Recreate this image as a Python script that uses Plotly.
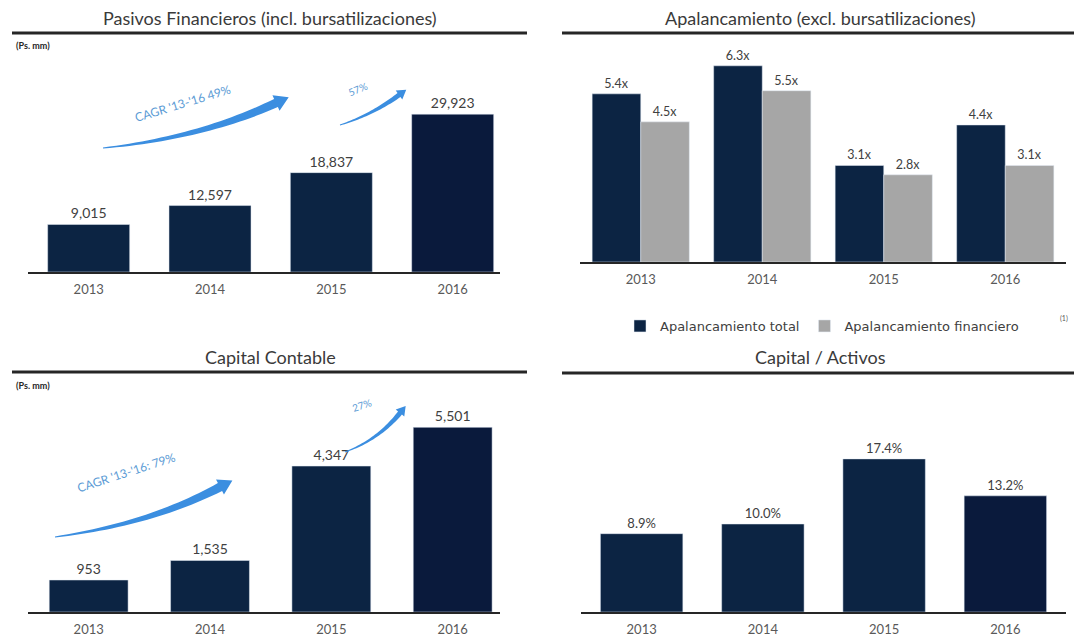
import numpy as np
import plotly.graph_objects as go

W, H = 1074, 639

# ---------------- data ----------------
years = ["2013", "2014", "2015", "2016"]
pasivos = [9015, 12597, 18837, 29923]
apal_total = [5.4, 6.3, 3.1, 4.4]
apal_financiero = [4.5, 5.5, 2.8, 3.1]
capital = [953, 1535, 4347, 5501]
cap_activos = [8.9, 10.0, 17.4, 13.2]

titles = ["Pasivos Financieros (incl. bursatilizaciones)",
          "Apalancamiento (excl. bursatilizaciones)",
          "Capital Contable",
          "Capital / Activos"]
cagr_labels = ["CAGR '13-'16 49%", "57%", "CAGR '13-'16: 79%", "27%"]

NAVY = "#0c2443"
NAVY2 = "#0a1a3c"
GRAY = "#a6a6a6"
TXT = "#404040"
FONT = "Lato"


def px(x):
    return x / W


def py(y):
    return 1 - y / H


fig = go.Figure()

# Top-left
fig.add_trace(go.Bar(x=years, y=pasivos, text=[f"{v:,}" for v in pasivos],
                     marker=dict(color=[NAVY, NAVY, NAVY, NAVY2]), width=0.676,
                     textposition="outside", cliponaxis=False,
                     textfont=dict(size=14, color=TXT, family=FONT),
                     showlegend=False, xaxis="x", yaxis="y"))
# Top-right
fig.add_trace(go.Bar(x=years, y=apal_total, text=[f"{v:.1f}x" for v in apal_total],
                     name="Apalancamiento total", marker_color=NAVY, width=0.4, offset=-0.4,
                     textposition="outside", cliponaxis=False,
                     textfont=dict(size=12.5, color=TXT, family=FONT),
                     xaxis="x2", yaxis="y2"))
fig.add_trace(go.Bar(x=years, y=apal_financiero, text=[f"{v:.1f}x" for v in apal_financiero],
                     name="Apalancamiento financiero", marker_color=GRAY, width=0.4, offset=0,
                     textposition="outside", cliponaxis=False,
                     textfont=dict(size=12.5, color=TXT, family=FONT),
                     xaxis="x2", yaxis="y2"))
# Bottom-left
fig.add_trace(go.Bar(x=years, y=capital, text=[f"{v:,}" for v in capital],
                     marker=dict(color=[NAVY, NAVY, NAVY, NAVY2]), width=0.65,
                     textposition="outside", cliponaxis=False,
                     textfont=dict(size=14, color=TXT, family=FONT),
                     showlegend=False, xaxis="x3", yaxis="y3"))
# Bottom-right
fig.add_trace(go.Bar(x=years, y=cap_activos, text=[f"{v:.1f}%" for v in cap_activos],
                     marker=dict(color=[NAVY, NAVY, NAVY, NAVY2]), width=0.68,
                     textposition="outside", cliponaxis=False,
                     textfont=dict(size=13, color=TXT, family=FONT),
                     showlegend=False, xaxis="x4", yaxis="y4"))

xcommon = dict(type="category", categoryorder="array", categoryarray=years,
               showline=True, linecolor="#262626", linewidth=1.5, showgrid=False,
               zeroline=False, ticks="", ticklabelstandoff=5,
               tickfont=dict(size=13, color="#595959", family=FONT), fixedrange=True)
ycommon = dict(visible=False, showgrid=False, zeroline=False, fixedrange=True)

fig.update_layout(
    width=W, height=H, autosize=False,
    margin=dict(l=0, r=0, t=0, b=0),
    paper_bgcolor="white", plot_bgcolor="white",
    barmode="overlay",
    font=dict(family=FONT, color=TXT),
    xaxis=dict(xcommon, domain=[px(28), px(500)], range=[-0.5, 3.39], anchor="y"),
    yaxis=dict(ycommon, domain=[py(272), py(61)], range=[0, 40000], anchor="x"),
    xaxis2=dict(xcommon, domain=[px(580), px(1066)], range=[-0.5, 3.5], anchor="y2"),
    yaxis2=dict(ycommon, domain=[py(262), py(44)], range=[0, 7], anchor="x2"),
    xaxis3=dict(xcommon, domain=[px(28), px(500)], range=[-0.5, 3.39], anchor="y3"),
    yaxis3=dict(ycommon, domain=[py(612), py(377)], range=[0, 7000], anchor="x3"),
    xaxis4=dict(xcommon, domain=[px(581), px(1066)], range=[-0.5, 3.5], anchor="y4"),
    yaxis4=dict(ycommon, domain=[py(612), py(392)], range=[0, 25], anchor="x4"),
    legend=dict(orientation="h", x=px(620), y=py(311), xanchor="left", yanchor="top",
                font=dict(size=13, color=TXT, family="DejaVu Sans"), bgcolor="rgba(0,0,0,0)",
                itemwidth=30, traceorder="normal"),
)

# titles and rules
title_pos = [(270, 18, 12, 527, 33), (820, 18, 562, 1074, 33),
             (270, 357, 12, 527, 372), (820, 357, 562, 1074, 373)]
shapes = []
annotations = []
for t, (cx, cy, x0, x1, ly) in zip(titles, title_pos):
    annotations.append(dict(text=t, x=px(cx), y=py(cy), xref="paper", yref="paper",
                            showarrow=False, xanchor="center", yanchor="middle",
                            font=dict(size=18, color="#3a3a3a", family=FONT)))
    shapes.append(dict(type="line", xref="paper", yref="paper", x0=px(x0), x1=px(x1),
                       y0=py(ly), y1=py(ly), line=dict(color="#262626", width=3)))

for yy in (45, 385):
    annotations.append(dict(text="<b>(Ps. mm)</b>", x=px(14), y=py(yy), xref="paper", yref="paper",
                            showarrow=False, xanchor="left", yanchor="middle",
                            font=dict(size=9, color="#262626", family=FONT)))
annotations.append(dict(text="(1)", x=px(1064), y=py(318), xref="paper", yref="paper",
                        showarrow=False, xanchor="center", yanchor="middle",
                        font=dict(size=7, color="#595959", family=FONT)))


def arrow_path(p0, c, p1, w0, w1, head_len, head_w, n=30):
    p0, c, p1 = map(np.array, (p0, c, p1))
    ts = np.linspace(0, 1, n)
    left, right = [], []
    for t in ts:
        b = (1 - t) ** 2 * p0 + 2 * (1 - t) * t * c + t ** 2 * p1
        d = 2 * (1 - t) * (c - p0) + 2 * t * (p1 - c)
        d = d / np.linalg.norm(d)
        nrm = np.array([-d[1], d[0]])
        w = w0 + (w1 - w0) * t
        left.append(b + nrm * w / 2)
        right.append(b - nrm * w / 2)
    d = p1 - c
    d = d / np.linalg.norm(d)
    nrm = np.array([-d[1], d[0]])
    tip = p1 + d * head_len
    pts = left + [p1 + nrm * head_w / 2, tip, p1 - nrm * head_w / 2] + right[::-1]
    s = "M " + " L ".join(f"{px(x):.5f},{py(y):.5f}" for x, y in pts) + " Z"
    return s


arrows = [((103, 148), (200, 138), (276, 103), 1.2, 9, 14, 17),
          ((340, 125), (372, 115), (399, 95), 1.0, 5, 9, 11),
          ((55, 537), (150, 524), (220, 487), 1.2, 9, 14, 17),
          ((345, 452), (378, 440), (400, 413), 1.0, 5, 9, 11)]
for a in arrows:
    shapes.append(dict(type="path", xref="paper", yref="paper",
                       path=arrow_path(*a), fillcolor="#3b8ee0",
                       line=dict(width=0)))

label_pos = [(182, 103, -17, 12), (358, 89, -22, 10), (126, 472, -18, 12), (362, 405, -18, 10)]
for lab, (lx, ly, ang, sz) in zip(cagr_labels, label_pos):
    annotations.append(dict(text=lab, x=px(lx), y=py(ly), xref="paper", yref="paper",
                            showarrow=False, textangle=ang, xanchor="center", yanchor="middle",
                            font=dict(size=sz, color="#5b9bd5", family=FONT)))

fig.update_layout(shapes=shapes, annotations=annotations)
fig.write_html("out.html", config={"displayModeBar": False},
               post_script="document.body.style.margin='0';document.body.style.overflow='hidden';")
